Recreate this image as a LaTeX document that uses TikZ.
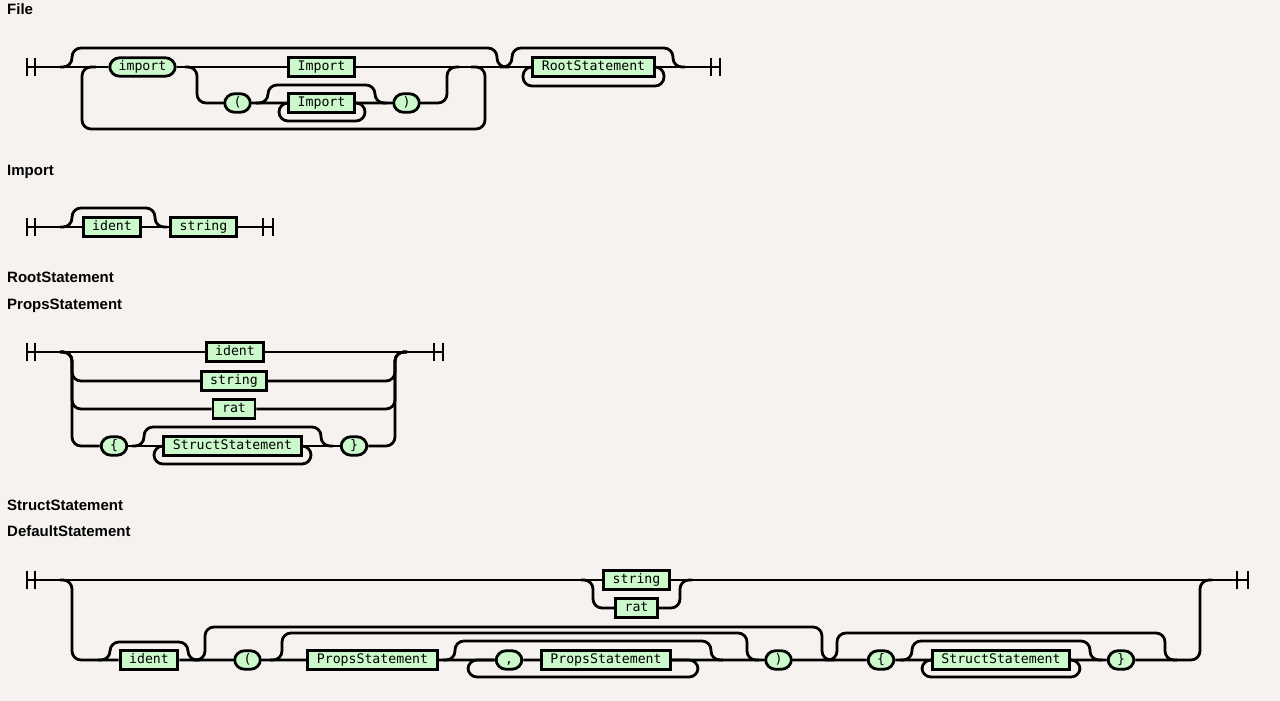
\documentclass[tikz,border=0pt]{standalone}
\usepackage{fontspec}
\newfontfamily\titlefont{Liberation Sans}
\newfontfamily\rrfont{DejaVu Sans Mono}
\definecolor{paper}{HTML}{F5F2EF}
\definecolor{boxgreen}{HTML}{CCF9CC}
\tikzset{
  rail/.style={line width=2.8pt, rounded corners=9pt},
  term/.style={draw, line width=2.8pt, fill=boxgreen, rounded corners=10pt,
    font=\rrfont\fontsize{13.2}{15}\selectfont, inner xsep=9pt, inner ysep=0pt,
    minimum height=18.5pt, text height=9.5pt, text depth=2.5pt},
  nonterm/.style={term, sharp corners},
  title/.style={anchor=base west, inner sep=0pt,
    font=\titlefont\bfseries\fontsize{15}{17}\selectfont}
}
\begin{document}
\begin{tikzpicture}[x=1pt, y=-1pt]
  \fill[paper] (0,0) rectangle (1280,701);
  \useasboundingbox (0,0) rectangle (1280,701);

  \node[title] (tFile) at (7,15) {File};
  \node[title] (tImport) at (7,175) {Import};
  \node[title] (tRoot) at (7,282) {RootStatement};
  \node[title] (tProps) at (7,309) {PropsStatement};
  \node[title] (tStruct) at (7,510) {StructStatement};
  \node[title] (tDefault) at (7,536) {DefaultStatement};

  % File
  \node[term] (fimp) at (142.5,67) {import};
  \node[nonterm] (fImp) at (321.5,67) {Import};
  \node[term] (flp) at (237.5,103) {(};
  \node[nonterm] (fImpB) at (321.5,103) {Import};
  \node[term] (frp) at (406.5,103) {)};
  \node[nonterm] (fRoot) at (593.5,67) {RootStatement};
  \coordinate (fS) at (27,67);
  \coordinate (fE) at (720,67);
  \draw[rail] (fS) -- (fimp.west) (fimp.east) -- (fImp.west) (fImp.east) -- (fRoot.west) (fRoot.east) -- (fE);
  \draw[rail] (60,67) -- (72,67) -- (72,48) -- (497,48) -- (497,67) -- (509,67);
  \draw[rail] (96,67) -- (82,67) -- (82,129) -- (485,129) -- (485,67) -- (471,67);
  \draw[rail] (185,67) -- (197,67) |- (flp.west) (flp.east) -- (fImpB.west) (fImpB.east) -- (frp.west)
    (frp.east) -| (447,67) -- (459,67);
  \draw[rail] (256,103) -- (268,103) -- (268,85) -- (375,85) -- (375,103) -- (387,103);
  \draw[rail] (fImpB.east) -- (365,103) -- (365,121) -- (279,121) -- (279,103) -- (fImpB.west);
  \draw[rail] (500,67) -- (512,67) -- (512,48) -- (673,48) -- (673,67) -- (685,67);
  \draw[rail] (fRoot.east) -- (664,67) -- (664,86) -- (523,86) -- (523,67) -- (fRoot.west);

  % Import
  \node[nonterm] (iid) at (112,227) {ident};
  \node[nonterm] (istr) at (203.5,227) {string};
  \coordinate (iS) at (27,227);
  \coordinate (iE) at (273,227);
  \draw[rail] (iS) -- (iid.west) (iid.east) -- (istr.west) (istr.east) -- (iE);
  \draw[rail] (60,227) -- (72,227) -- (72,208) -- (155,208) -- (155,227) -- (167,227);

  % PropsStatement
  \node[nonterm] (pid) at (235,352) {ident};
  \node[nonterm] (pstr) at (234,381) {string};
  \node[nonterm] (prat) at (234,409) {rat};
  \node[term] (plb) at (114,446) {\{};
  \node[nonterm] (pst) at (232.5,446) {StructStatement};
  \node[term] (prb) at (354,446) {\}};
  \coordinate (pS) at (27,352);
  \coordinate (pE) at (443,352);
  \draw[rail] (pS) -- (pid.west) (pid.east) -- (pE);
  \foreach \b in {pstr,prat,plb}
    \draw[rail] (60,352) -- (72,352) |- (\b.west);
  \foreach \b in {pstr,prat,prb}
    \draw[rail] (\b.east) -| (395,352) -- (407,352);
  \draw[rail] (plb.east) -- (pst.west) (pst.east) -- (prb.west);
  \draw[rail] (132,446) -- (144,446) -- (144,427) -- (321,427) -- (321,446) -- (333,446);
  \draw[rail] (pst.east) -- (311,446) -- (311,464) -- (154,464) -- (154,446) -- (pst.west);

  % DefaultStatement
  \node[nonterm] (dstr) at (636.5,580) {string};
  \node[nonterm] (drat) at (636.5,608) {rat};
  \node[nonterm] (did) at (149,660) {ident};
  \node[term] (dlp) at (247.5,660) {(};
  \node[nonterm] (dp1) at (372.5,660) {PropsStatement};
  \node[term] (dcm) at (509,660) {,};
  \node[nonterm] (dp2) at (606,660) {PropsStatement};
  \node[term] (drp) at (778.5,660) {)};
  \node[term] (dlb) at (881,660) {\{};
  \node[nonterm] (dst) at (1001,660) {StructStatement};
  \node[term] (drb) at (1121,660) {\}};
  \coordinate (dS) at (27,580);
  \coordinate (dE) at (1248,580);
  \draw[rail] (dS) -- (dstr.west) (dstr.east) -- (dE);
  \draw[rail] (581,580) -- (593,580) |- (drat.west) (drat.east) -| (680,580) -- (692,580);
  \draw[rail] (60,580) -- (72,580) |- (did.west);
  \draw[rail] (did.east) -- (dlp.west) (dlp.east) -- (dp1.west) (dp1.east) -- (dcm.west)
    (dcm.east) -- (dp2.west) (dp2.east) -- (drp.west) (drp.east) -- (dlb.west)
    (dlb.east) -- (dst.west) (dst.east) -- (drb.west) (drb.east) -| (1200,580) -- (1212,580);
  \draw[rail] (98,660) -- (110,660) -- (110,642) -- (188,642) -- (188,660) -- (200,660);
  \draw[rail] (193,660) -- (205,660) -- (205,627) -- (822,627) -- (822,660) -- (834,660);
  \draw[rail] (270,660) -- (282,660) -- (282,633) -- (747,633) -- (747,660) -- (759,660);
  \draw[rail] (443,660) -- (455,660) -- (455,641) -- (711,641) -- (711,660) -- (723,660);
  \draw[rail] (dp2.east) -- (698,660) -- (698,677) -- (468,677) -- (468,660) -- (dcm.west);
  \draw[rail] (825,660) -- (837,660) -- (837,633) -- (1165,633) -- (1165,660) -- (1177,660);
  \draw[rail] (900,660) -- (912,660) -- (912,641) -- (1090,641) -- (1090,660) -- (1102,660);
  \draw[rail] (dst.east) -- (1080,660) -- (1080,677) -- (922,677) -- (922,660) -- (dst.west);

  \foreach \x/\y in {27/67,35/67,711/67,720/67,27/227,35/227,263/227,273/227,
                     27/352,35/352,434/352,443/352,27/580,35/580,1237/580,1248/580}
    \draw[rail] (\x,\y-9) -- (\x,\y+9);
\end{tikzpicture}
\end{document}
